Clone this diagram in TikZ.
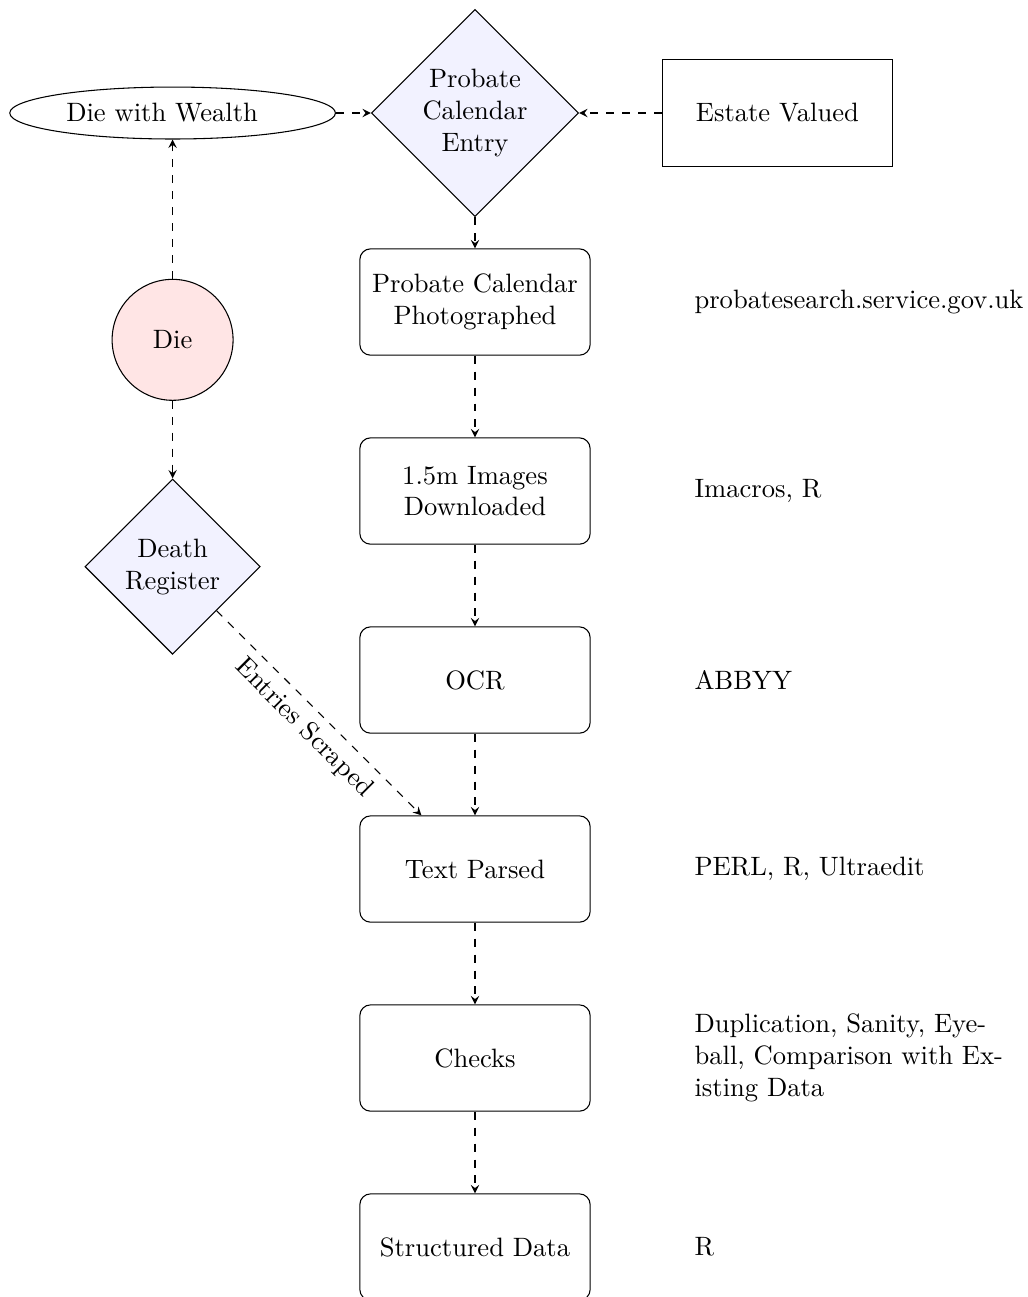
\documentclass[tikz,border=0pt]{standalone}
\usepackage{amsmath}
\usepackage{tikz}
\usetikzlibrary{shapes.geometric,arrows}

\tikzset{
	decision/.style={diamond, draw=black, fill=blue!5, text width=4.5em, align=center, inner sep=0pt},
	block/.style={rectangle, draw=black, rounded corners, text width=8em, align=center, minimum height=4em},
	plainbox/.style={rectangle, draw=black, text width=8em, align=center, minimum height=4em},
	cloud/.style={ellipse, draw=black, text width=8em},
	dot/.style={circle, draw=black, fill=red!10, minimum size=1.6cm},
	tool/.style={anchor=west, text width=4.3cm},
	flow/.style={->, >=stealth, dashed}
}

\begin{document}
\begin{tikzpicture}
			\useasboundingbox (-6.283,-15.661) rectangle (7.302,1.495);
			
			\node[decision] (entry) at (0,0) {Probate Calendar Entry};
			\node[cloud] (wealth) at (-4,0) {Die with Wealth};
			\node[plainbox] (estate) at (4,0) {Estate Valued};
			\node[dot] (die) at (-4,-3) {Die};
			\node[decision] (death) at (-4,-6) {Death Register};
			
			\node[block] (photo) at (0,-2.5) {Probate Calendar Photographed};
			\node[block] (images) at (0,-5) {1.5m Images Downloaded};
			\node[block] (ocr) at (0,-7.5) {OCR};
			\node[block] (parsed) at (0,-10) {Text Parsed};
			\node[block] (checks) at (0,-12.5) {Checks};
			\node[block] (structured) at (0,-15) {Structured Data};
			
			\node[tool] (t1) at (2.78,-2.5) {probatesearch.service.gov.uk};
			\node[tool] (t2) at (2.78,-5) {Imacros, R};
			\node[tool] (t3) at (2.78,-7.5) {ABBYY};
			\node[tool] (t4) at (2.78,-10) {PERL, R, Ultraedit};
			\node[tool] (t5) at (2.78,-12.5) {Duplication, Sanity, Eyeball, Comparison with Existing Data};
			\node[tool] (t6) at (2.78,-15) {R};
			
			\path [flow] (wealth) edge (entry);
			\path [flow] (estate) edge (entry);
			\path [flow] (entry) edge (photo);
			\path [flow] (photo) edge (images);
			\path [flow] (images) edge (ocr);
			\path [flow] (ocr) edge (parsed);
			\path [flow] (parsed) edge (checks);
			\path [flow] (checks) edge (structured);
			\path [flow] (die) edge (wealth);
			\path [flow] (die) edge (death);
			\path [flow] (death) edge node[below, sloped] {Entries Scraped} (parsed);
		\end{tikzpicture}
\end{document}
